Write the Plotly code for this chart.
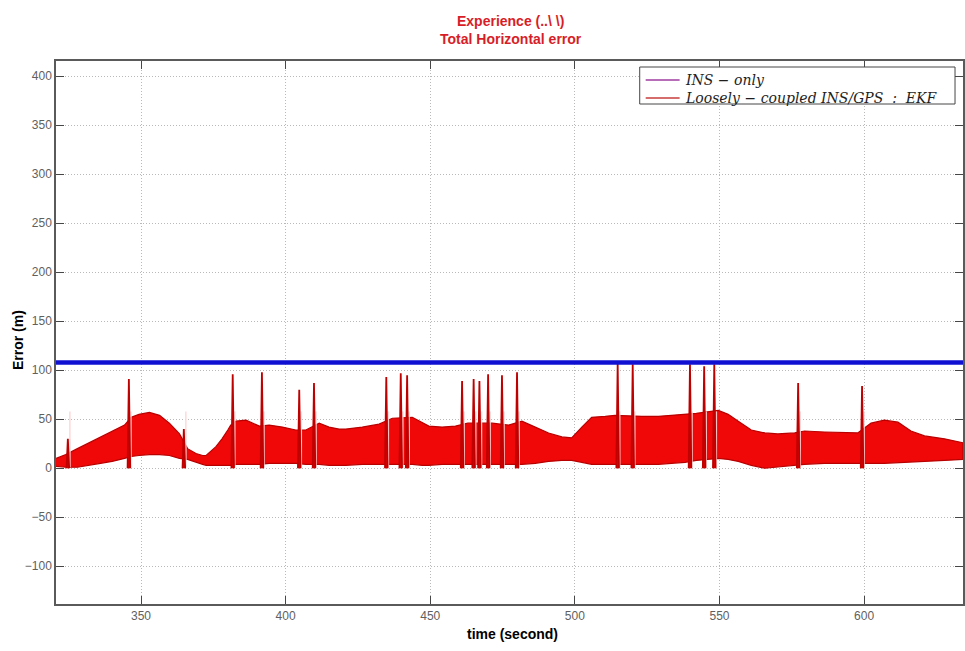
import plotly.graph_objects as go

# INS-only total horizontal error (m), flat over the run
ins_only_error = 108.0

# Loosely-coupled INS/GPS EKF error band: time (s), upper / lower envelope (m)
ekf_time = [320.6, 324.0, 328.0, 332.0, 336.0, 340.0, 344.3, 346.6, 349.3, 352.9,
            356.4, 359.8, 363.3, 366.1, 369.0, 371.3, 372.5, 375.9, 378.0, 380.0,
            381.0, 382.8, 386.3, 390.9, 394.3, 398.9, 403.5, 407.0, 411.6, 415.0,
            418.5, 420.8, 426.5, 432.3, 436.9, 443.8, 447.2, 449.5, 454.1, 458.7,
            463.0, 471.4, 477.1, 481.7, 486.3, 490.9, 495.5, 498.9, 502.4, 505.8,
            510.5, 513.9, 523.1, 528.9, 533.4, 538.1, 542.0, 549.6, 553.0, 556.5,
            561.0, 565.7, 570.2, 576.0, 579.4, 586.3, 593.3, 597.8, 602.4, 607.0,
            611.7, 616.2, 620.9, 627.8, 634.2]
ekf_upper = [10, 14, 20, 26, 32, 38, 44, 52, 55, 57,
             54, 46, 35, 20, 15, 13, 13, 22, 30, 39,
             44, 48, 49, 43, 44, 42, 39, 39, 46, 42,
             40, 40, 42, 45, 51, 52, 47, 43, 42, 43,
             46, 46, 44, 48, 42, 36, 32, 31, 42, 52,
             53, 54, 53, 53, 54, 55, 56, 59, 55, 48,
             39, 36, 35, 36, 38, 37, 36, 36, 46, 49,
             47, 38, 33, 30, 26]
ekf_lower = [2, 1, 1, 3, 5, 7, 10, 12, 13, 14,
             14, 13, 10, 9, 6, 4, 3, 3, 3, 3,
             3, 4, 4, 4, 5, 5, 5, 4, 4, 3,
             3, 3, 4, 4, 4, 4, 3, 3, 4, 4,
             4, 4, 4, 4, 5, 7, 8, 8, 6, 4,
             4, 4, 4, 4, 5, 6, 8, 10, 9, 7,
             3, 0, 1, 3, 4, 5, 5, 5, 5, 5,
             6, 6, 7, 8, 9]

# GPS-outage spikes of the EKF solution: time (s) and peak error (m)
spike_time = [324.7, 345.8, 364.8, 381.7, 391.8, 404.7, 409.8, 434.8, 439.8, 442.0,
              461.0, 465.0, 467.0, 470.0, 474.8, 480.0, 514.8, 520.0, 539.8, 544.7,
              548.2, 577.2, 599.3]
spike_peak = [30, 91, 40, 96, 98, 80, 87, 93, 97, 95,
              89, 91, 89, 96, 95, 98, 107, 106, 106, 104,
              106, 87, 84]

# legend labels and their sample-line colours
legend_labels = ["<i>INS − only</i>", "<i>Loosely − coupled INS/GPS  :  EKF</i>"]
legend_colors = ["rgb(160,60,160)", "rgb(200,60,60)"]

x_range = [320.6, 634.2]
y_range = [-138.5, 415.5]

# plot-area geometry in pixels (used to place the legend box and labels)
W, H = 965, 651
L, R, T, B = 56, 0, 61, 47
PW, PH = W - L - R, H - T - B


def px_x(px):
    return (px - L) / PW


def px_y(py):
    return (H - B - py) / PH


fig = go.Figure()

# error band of the coupled solution (closed polygon: upper then lower reversed)
band_x = ekf_time + ekf_time[::-1]
band_y = ekf_upper + ekf_lower[::-1]
fig.add_trace(go.Scatter(
    x=band_x, y=band_y, mode="lines", fill="toself",
    fillcolor="rgb(240,8,8)", line=dict(color="rgb(185,0,0)", width=1.2),
    showlegend=False, hoverinfo="skip"))

# thin light slits left by the filter reset right after each outage
slit_x, slit_y = [], []
for t in spike_time:
    slit_x += [t + 0.7, t + 0.7, None]
    slit_y += [1, 58, None]
fig.add_trace(go.Scatter(
    x=slit_x, y=slit_y, mode="lines",
    line=dict(color="rgba(255,215,215,0.9)", width=1.6),
    showlegend=False, hoverinfo="skip"))

# the outage spikes themselves
sp_x, sp_y = [], []
for t, p in zip(spike_time, spike_peak):
    sp_x += [t - 0.45, t, t + 0.45, None]
    sp_y += [0, p, 0, None]
fig.add_trace(go.Scatter(
    x=sp_x, y=sp_y, mode="lines", fill="toself", fillcolor="rgb(225,0,0)",
    line=dict(color="rgb(190,0,0)", width=1.8),
    showlegend=False, hoverinfo="skip"))

# INS-only error line
fig.add_trace(go.Scatter(
    x=[ekf_time[0], ekf_time[-1]], y=[ins_only_error, ins_only_error],
    mode="lines", line=dict(color="rgb(16,16,210)", width=4.5),
    showlegend=False, hoverinfo="skip"))

axis_common = dict(
    showgrid=True, gridcolor="rgb(185,185,185)", griddash="1px,2px", gridwidth=1,
    zeroline=False, showline=True, linecolor="rgb(90,90,90)", linewidth=1.5,
    mirror="ticks", ticks="inside", ticklen=8, tickcolor="rgb(70,70,70)",
    tickfont=dict(family="Liberation Sans Narrow, Liberation Sans, Arial",
                  size=12, color="rgb(95,95,95)"),
)

fig.update_xaxes(range=x_range, tick0=0, dtick=50, **axis_common)
fig.update_yaxes(range=y_range, tick0=0, dtick=50, **axis_common)

# boxed legend in the upper-right corner
shapes = [dict(type="rect", xref="paper", yref="paper",
               x0=px_x(641), x1=px_x(957), y0=px_y(104), y1=px_y(67),
               fillcolor="white", line=dict(color="rgb(70,70,70)", width=1),
               layer="above")]
annotations = []
for i, (lab, col) in enumerate(zip(legend_labels, legend_colors)):
    row_y = 80 + 18 * i
    shapes.append(dict(type="line", xref="paper", yref="paper",
                       x0=px_x(647), x1=px_x(681), y0=px_y(row_y), y1=px_y(row_y),
                       line=dict(color=col, width=1.5), layer="above"))
    annotations.append(dict(text=lab, xref="paper", yref="paper",
                            x=px_x(684), y=px_y(row_y),
                            xanchor="left", yanchor="middle", showarrow=False,
                            font=dict(family="DejaVu Serif, Liberation Serif, serif",
                                      size=14, color="rgb(30,30,30)")))

annotations += [
    dict(text="<b>Experience (..\\ \\)</b><br><b>Total Horizontal error</b>",
         xref="paper", yref="paper", x=px_x(512), y=px_y(11),
         xanchor="center", yanchor="top", showarrow=False,
         font=dict(family="Liberation Sans, Arial", size=14,
                   color="rgb(215,30,40)")),
    dict(text="<b>Error (m)</b>", textangle=-90,
         xref="paper", yref="paper", x=px_x(18), y=px_y(340),
         xanchor="center", yanchor="middle", showarrow=False,
         font=dict(family="Liberation Sans, Arial", size=14, color="black")),
    dict(text="<b>time (second)</b>",
         xref="paper", yref="paper", x=px_x(514), y=px_y(634),
         xanchor="center", yanchor="middle", showarrow=False,
         font=dict(family="Liberation Sans, Arial", size=14, color="black")),
]

fig.update_layout(
    width=W, height=H,
    margin=dict(l=L, r=R, t=T, b=B),
    paper_bgcolor="white", plot_bgcolor="white",
    showlegend=False,
    shapes=shapes,
    annotations=annotations,
)

fig.write_html("out.html")
